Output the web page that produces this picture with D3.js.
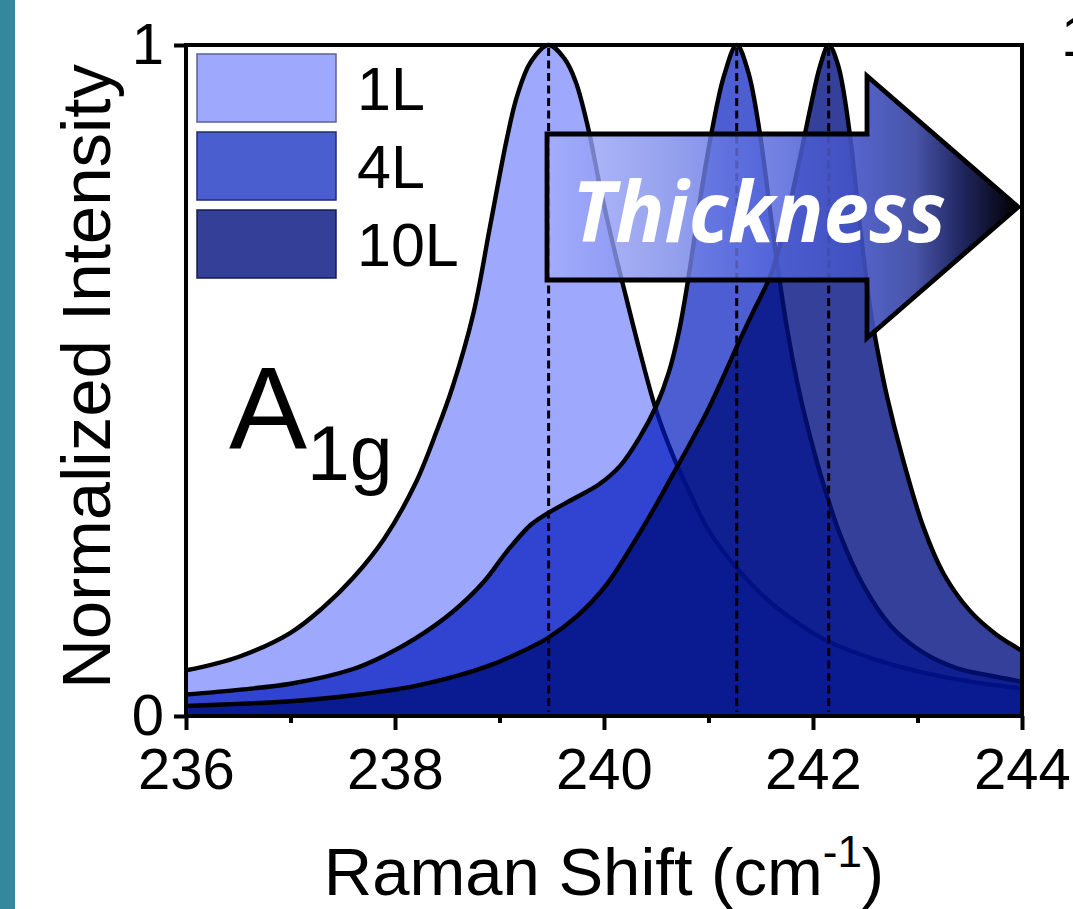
<!DOCTYPE html>
<html>
<head>
<meta charset="utf-8">
<script src="https://cdn.jsdelivr.net/npm/d3@7"></script>
<style>
  html, body { margin: 0; padding: 0; background: #ffffff; }
  svg { display: block; }
</style>
</head>
<body>
<svg id="chart" width="1073" height="909"></svg>
<script>
// ---- data: normalized A1g Raman band for three layer counts ----
const layers = ["1L", "4L", "10L"];

const shift1L = [236.0, 236.5, 237.0, 237.3, 237.6, 237.9, 238.2, 238.4, 238.55, 238.75, 238.91, 239.07, 239.17, 239.3,
                 239.47, 239.62, 239.73, 239.85, 239.96, 240.09, 240.21, 240.34, 240.5, 240.66, 240.82, 241.0, 241.3,
                 241.65, 242.1, 242.6, 243.1, 243.55, 244.0];
const intensity1L = [0.068, 0.088, 0.124, 0.16, 0.206, 0.265, 0.348, 0.425, 0.49, 0.6, 0.73, 0.86, 0.925, 0.975,
                     1.0, 0.98, 0.945, 0.875, 0.79, 0.70, 0.625, 0.545, 0.455, 0.388, 0.333, 0.277, 0.215,
                     0.162, 0.115, 0.084, 0.063, 0.05, 0.041];

const shift4L = [236.0, 236.5, 237.0, 237.6, 237.9, 238.2, 238.55, 238.85, 239.07, 239.3, 239.47, 239.7, 239.95, 240.15,
                 240.34, 240.5, 240.62, 240.72, 240.81, 240.92, 241.03, 241.15, 241.27, 241.38, 241.49, 241.58, 241.67,
                 241.76, 241.88, 242.0, 242.13, 242.26, 242.48, 242.74, 243.06, 243.38, 243.7, 244.0];
const intensity4L = [0.032, 0.039, 0.048, 0.07, 0.09, 0.116, 0.155, 0.2, 0.245, 0.285, 0.303, 0.323, 0.345, 0.372,
                     0.415, 0.462, 0.512, 0.575, 0.655, 0.77, 0.87, 0.955, 1.0, 0.96, 0.87, 0.765, 0.66,
                     0.57, 0.475, 0.40, 0.33, 0.27, 0.195, 0.135, 0.094, 0.071, 0.06, 0.051];

const shift10L = [236.0, 236.5, 237.0, 237.6, 238.2, 238.6, 238.9, 239.2, 239.47, 239.75, 240.03, 240.3, 240.5, 240.66,
                  240.82, 241.0, 241.14, 241.27, 241.42, 241.5, 241.59, 241.68, 241.77, 241.88, 241.98, 242.07, 242.15,
                  242.24, 242.35, 242.45, 242.55, 242.63, 242.71, 242.86, 243.06, 243.25, 243.5, 243.75, 244.0];
const intensity10L = [0.015, 0.018, 0.022, 0.031, 0.045, 0.06, 0.075, 0.095, 0.117, 0.15, 0.197, 0.262, 0.315, 0.36,
                      0.405, 0.458, 0.505, 0.55, 0.6, 0.625, 0.655, 0.7, 0.757, 0.835, 0.91, 0.97, 1.0,
                      0.97, 0.87, 0.73, 0.605, 0.535, 0.475, 0.383, 0.28, 0.212, 0.157, 0.122, 0.097];

// peak positions marked with dotted guides
const peakShifts = [239.47, 241.27, 242.15];

const xTickValues = [236, 238, 240, 242, 244];
const xMinorTickValues = [237, 239, 241, 243];
const yTickValues = [0, 1];

// ---- styles ----
const fillColors = ["#9ea8fc", "rgb(1,26,191)", "rgb(1,16,129)"];
const fillOpacities = [1, 0.7, 0.8];
const swatchColors = ["#9ea8fc", "#4b5ed0", "#343f98"];
const swatchStrokes = ["#5a6294", "#202a78", "#141c5a"];
const sansFont = "'Liberation Sans', Arial, Helvetica, sans-serif";

const svg = d3.select("#chart");
const H = 909;
const plot = { left: 186, right: 1022, top: 45, bottom: 716 };

const x = d3.scaleLinear().domain([236, 244]).range([plot.left, plot.right]);
const y = d3.scaleLinear().domain([0, 1]).range([plot.bottom, plot.top]);

// side strip
svg.append("rect").attr("x", 0).attr("y", 0).attr("width", 15).attr("height", H).attr("fill", "#33889e");

const defs = svg.append("defs");
defs.append("clipPath").attr("id", "plot-clip")
  .append("rect")
  .attr("x", plot.left).attr("y", plot.top - 4)
  .attr("width", plot.right - plot.left).attr("height", plot.bottom - plot.top + 4);

const grad = defs.append("linearGradient").attr("id", "arrow-grad")
  .attr("gradientUnits", "userSpaceOnUse")
  .attr("x1", 547).attr("y1", 0).attr("x2", 1018).attr("y2", 0);
[
  [0.00, "rgb(165,174,252)", 0.8],
  [0.25, "rgb(125,140,235)", 0.8],
  [0.50, "rgb(80,98,218)", 0.82],
  [0.66, "rgb(66,82,196)", 0.9],
  [0.78, "rgb(62,76,164)", 0.95],
  [0.88, "rgb(32,38,96)", 1],
  [1.00, "rgb(0,0,0)", 1]
].forEach(([o, c, a]) => grad.append("stop").attr("offset", o).attr("stop-color", c).attr("stop-opacity", a));

// ---- spectra ----
const seriesData = [
  d3.zip(shift1L, intensity1L),
  d3.zip(shift4L, intensity4L),
  d3.zip(shift10L, intensity10L)
];

const smooth = d3.curveCatmullRom.alpha(0.5);
const area = d3.area()
  .x(d => x(d[0])).y0(y(0)).y1(d => y(d[1]))
  .curve(smooth);
const line = d3.line()
  .x(d => x(d[0])).y(d => y(d[1]))
  .curve(smooth);

const plotG = svg.append("g").attr("clip-path", "url(#plot-clip)");
seriesData.forEach((pts, i) => {
  const g = plotG.append("g").attr("class", "layer-" + layers[i]);
  g.append("path").datum(pts).attr("d", area)
    .attr("fill", fillColors[i]).attr("fill-opacity", fillOpacities[i]);
  g.append("path").datum(pts).attr("d", line)
    .attr("fill", "none").attr("stroke", "#000").attr("stroke-width", 4.4)
    .attr("stroke-linejoin", "round");
});

// dotted guides at the peak maxima
plotG.selectAll("line.peak").data(peakShifts).enter().append("line")
  .attr("class", "peak")
  .attr("x1", d => x(d)).attr("x2", d => x(d))
  .attr("y1", y(1) + 3).attr("y2", y(0) - 4)
  .attr("stroke", "#000").attr("stroke-width", 3)
  .attr("stroke-dasharray", "8,4.5");

// ---- thickness arrow ----
const tailX = 547, baseX = 867, tipX = 1018, midY = 207, bodyHalf = 73, headHalf = 131;
const arrowPts = [
  [tailX, midY - bodyHalf], [baseX, midY - bodyHalf], [baseX, midY - headHalf],
  [tipX, midY], [baseX, midY + headHalf], [baseX, midY + bodyHalf], [tailX, midY + bodyHalf]
];
svg.append("path")
  .attr("d", "M" + arrowPts.map(p => p.join(",")).join("L") + "Z")
  .attr("fill", "url(#arrow-grad)")
  .attr("stroke", "#000").attr("stroke-width", 4.8).attr("stroke-linejoin", "miter");

svg.append("text")
  .attr("x", 572).attr("y", 242)
  .attr("font-family", "'Open Sans', 'Noto Sans', sans-serif")
  .attr("font-weight", 700).attr("font-style", "italic")
  .attr("font-size", 85)
  .attr("textLength", 374).attr("lengthAdjust", "spacingAndGlyphs")
  .attr("fill", "#ffffff")
  .text("Thickness");

// ---- legend ----
const legendTop = [54, 132, 210];
const legend = svg.append("g");
layers.forEach((name, i) => {
  legend.append("rect")
    .attr("x", 197).attr("y", legendTop[i]).attr("width", 139).attr("height", 68)
    .attr("fill", swatchColors[i]).attr("stroke", swatchStrokes[i]).attr("stroke-width", 1.5);
  legend.append("text")
    .attr("x", 357).attr("y", legendTop[i] + 34 + 22)
    .attr("font-family", sansFont).attr("font-size", 61).attr("fill", "#000")
    .text(name);
});

// ---- mode label ----
const modeLabel = svg.append("text")
  .attr("x", 229).attr("y", 449)
  .attr("font-family", sansFont).attr("font-size", 117).attr("fill", "#000");
modeLabel.append("tspan").text("A");
modeLabel.append("tspan").attr("font-size", 77).attr("dy", 31).text("1g");

// ---- axes ----
const xAxis = d3.axisBottom(x).tickValues(xTickValues).tickSize(14).tickPadding(18).tickFormat(d3.format("d"));
const xMinor = d3.axisBottom(x).tickValues(xMinorTickValues).tickSize(7).tickFormat("");
const yAxis = d3.axisLeft(y).tickValues(yTickValues).tickSize(12).tickPadding(10).tickFormat(d3.format("d"));

function styleAxis(g) {
  g.select(".domain").remove();
  g.selectAll(".tick line").attr("stroke", "#000").attr("stroke-width", 4);
  g.selectAll(".tick text").attr("font-family", sansFont).attr("font-size", 58).attr("fill", "#000");
}

svg.append("g").attr("transform", `translate(0,${plot.bottom})`).call(xMinor).call(styleAxis);
svg.append("g").attr("transform", `translate(0,${plot.bottom})`).call(xAxis).call(styleAxis);
svg.append("g").attr("transform", `translate(${plot.left},0)`).call(yAxis).call(styleAxis);

// frame
svg.append("rect")
  .attr("x", plot.left).attr("y", plot.top)
  .attr("width", plot.right - plot.left).attr("height", plot.bottom - plot.top)
  .attr("fill", "none").attr("stroke", "#000").attr("stroke-width", 4);

// axis titles
svg.append("text")
  .attr("transform", `translate(110,${(plot.top + plot.bottom) / 2 - 4}) rotate(-90)`)
  .attr("text-anchor", "middle")
  .attr("font-family", sansFont).attr("font-size", 69).attr("fill", "#000")
  .text("Normalized Intensity");

const xTitle = svg.append("text")
  .attr("x", (plot.left + plot.right) / 2).attr("y", 895)
  .attr("text-anchor", "middle")
  .attr("font-family", sansFont).attr("font-size", 67).attr("fill", "#000");
xTitle.append("tspan").text("Raman Shift (cm");
xTitle.append("tspan").attr("font-size", 44).attr("dy", -28).text("-1");
xTitle.append("tspan").attr("dy", 28).text(")");

// neighbouring panel's axis label, cut at the edge
svg.append("text")
  .attr("x", 1061).attr("y", 56)
  .attr("font-family", sansFont).attr("font-size", 58).attr("fill", "#000")
  .text("1");
</script>
</body>
</html>
